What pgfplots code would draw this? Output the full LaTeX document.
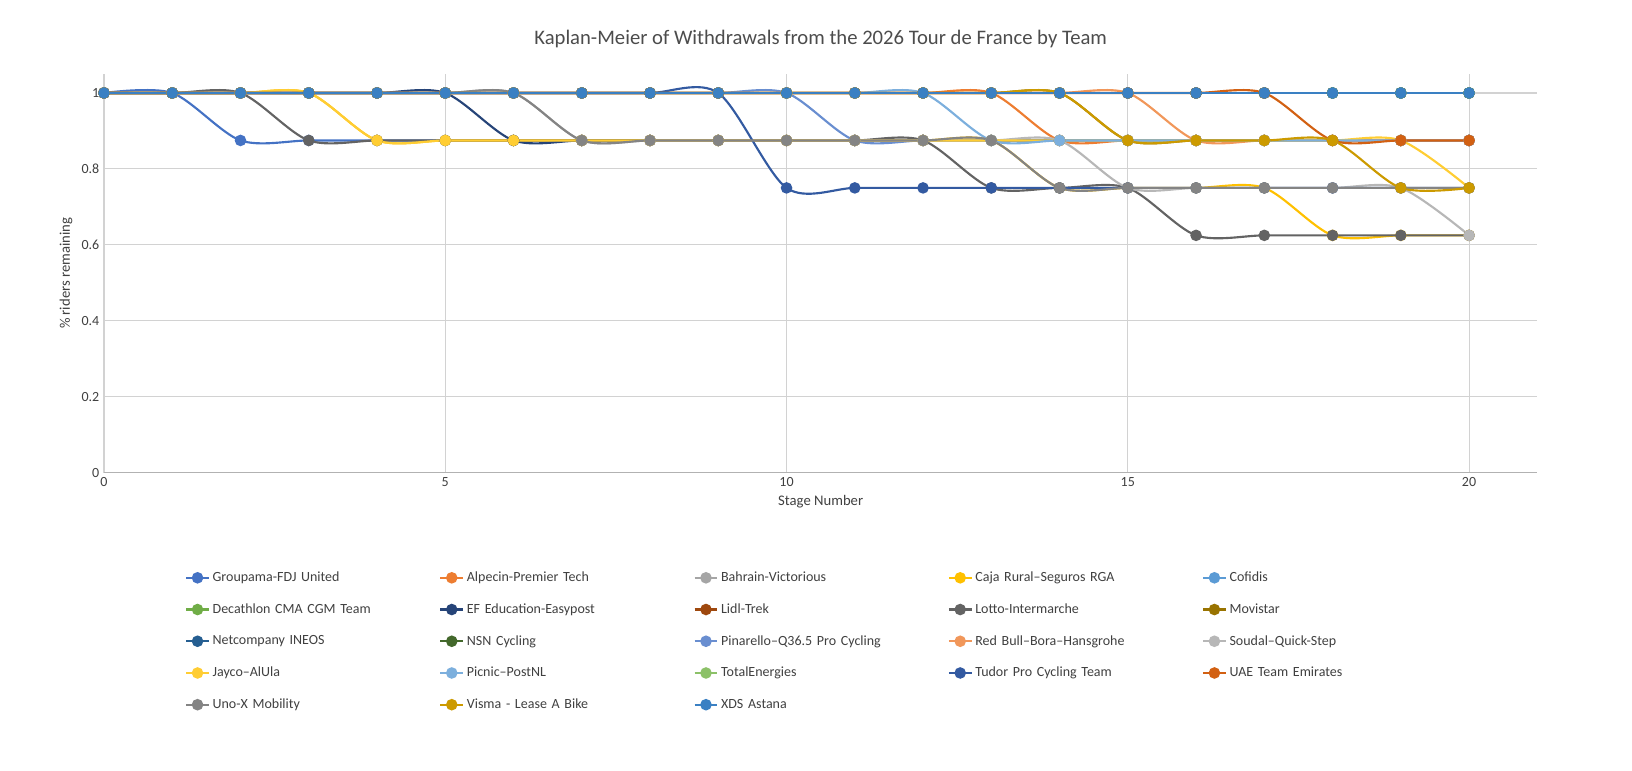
\documentclass[border=0pt]{standalone}
\usepackage{pgfplots}
\usepackage{pgfplotstable}
\pgfplotsset{compat=1.18}
\usepackage{fontspec}
\setmainfont{Carlito}
\definecolor{c1}{HTML}{4472C4}\definecolor{c2}{HTML}{ED7D31}\definecolor{c3}{HTML}{A5A5A5}
\definecolor{c4}{HTML}{FFC000}\definecolor{c5}{HTML}{5B9BD5}\definecolor{c6}{HTML}{70AD47}
\definecolor{c7}{HTML}{264478}\definecolor{c8}{HTML}{9E480E}\definecolor{c9}{HTML}{636363}
\definecolor{c10}{HTML}{997300}\definecolor{c11}{HTML}{255E91}\definecolor{c12}{HTML}{43682B}
\definecolor{c13}{HTML}{698ED0}\definecolor{c14}{HTML}{F1975A}\definecolor{c15}{HTML}{B7B7B7}
\definecolor{c16}{HTML}{FFCD33}\definecolor{c17}{HTML}{7CAFDD}\definecolor{c18}{HTML}{8CC168}
\definecolor{c19}{HTML}{335AA1}\definecolor{c20}{HTML}{D26012}\definecolor{c21}{HTML}{848484}
\definecolor{c22}{HTML}{CC9A00}\definecolor{c23}{HTML}{3A80C3}
\pgfplotstableread{
s G A B C Co D E L Lo M N NS P R S J Pi T Tu U Ux V X
0 1 1 1 1 1 1 1 1 1 1 1 1 1 1 1 1 1 1 1 1 1 1 1
1 1 1 1 1 1 1 1 1 1 1 1 1 1 1 1 1 1 1 1 1 1 1 1
2 .875 1 1 1 1 1 1 1 1 1 1 1 1 1 1 1 1 1 1 1 1 1 1
3 .875 1 1 1 1 1 1 1 .875 1 1 1 1 1 1 1 1 1 1 1 1 1 1
4 .875 1 1 .875 1 1 1 1 .875 1 1 1 1 1 1 .875 1 1 1 1 1 1 1
5 .875 1 1 .875 1 1 1 1 .875 1 1 1 1 1 1 .875 1 1 1 1 1 1 1
6 .875 1 1 .875 1 1 .875 1 .875 1 1 1 1 1 1 .875 1 1 1 1 1 1 1
7 .875 1 1 .875 1 1 .875 1 .875 1 1 1 1 1 .875 .875 1 1 1 1 .875 1 1
8 .875 1 1 .875 1 1 .875 1 .875 1 1 1 1 1 .875 .875 1 1 1 1 .875 1 1
9 .875 1 1 .875 1 1 .875 1 .875 1 1 1 1 1 .875 .875 1 1 1 1 .875 1 1
10 .875 1 1 .875 1 1 .875 1 .875 1 1 1 1 1 .875 .875 1 1 .75 1 .875 1 1
11 .875 1 1 .875 1 1 .875 1 .875 1 1 1 .875 1 .875 .875 1 1 .75 1 .875 1 1
12 .875 1 1 .875 1 1 .875 1 .875 1 1 1 .875 1 .875 .875 1 1 .75 1 .875 1 1
13 .875 1 1 .875 1 1 .875 1 .75 1 1 1 .875 1 .875 .875 .875 1 .75 1 .875 1 1
14 .875 .875 1 .75 1 1 .875 1 .75 1 1 1 .875 1 .875 .875 .875 1 .75 1 .75 1 1
15 .875 .875 1 .75 1 1 .875 1 .75 .875 1 1 .875 1 .75 .875 .875 1 .75 1 .75 .875 1
16 .875 .875 1 .75 1 1 .875 1 .625 .875 1 1 .875 .875 .75 .875 .875 1 .75 1 .75 .875 1
17 .875 .875 1 .75 1 1 .875 1 .625 .875 1 1 .875 .875 .75 .875 .875 1 .75 1 .75 .875 1
18 .875 .875 1 .625 1 1 .875 1 .625 .875 1 1 .875 .875 .75 .875 .875 1 .75 .875 .75 .875 1
19 .875 .875 1 .625 1 1 .875 1 .625 .875 1 1 .875 .875 .75 .875 .875 1 .75 .875 .75 .75 1
20 .875 .875 1 .625 1 1 .875 1 .625 .875 1 1 .875 .875 .625 .75 .875 1 .75 .875 .75 .75 1
}\data
\newcommand{\ser}[3]{\addplot[color=#1, mark=*, smooth, line width=1.6pt, mark size=3.5pt, mark options={solid}] table[x=s,y=#2]{\data}; \addlegendentry{#3}}
\begin{document}
\begin{tikzpicture}
\useasboundingbox (-78pt,-223.5pt) rectangle (1146pt,354.5pt);
\begin{axis}[scale only axis, width=1075pt, height=299pt,
  xmin=0, xmax=21, ymin=0, ymax=1.05,
  xtick={0,5,10,15,20}, ytick={0,0.2,0.4,0.6,0.8,1},
  yticklabels={0,0.2,0.4,0.6,0.8,1},
  grid=major, grid style={gray!35, line width=0.8pt},
  axis lines*=left, y axis line style={draw=none}, x axis line style={gray!60,line width=0.8pt},
  major tick length=0pt,
  tick label style={font=\fontsize{10.5}{12}\selectfont, color=black!75},
  /pgf/number format/assume math mode=true,
  xlabel={Stage Number}, ylabel={\% riders remaining},
  label style={font=\fontsize{11}{13}\selectfont, color=black!75},
  title={Kaplan-Meier of Withdrawals from the 2026 Tour de France by Team},
  title style={font=\fontsize{15.5}{18}\selectfont, color=black!70, yshift=10pt},
  legend columns=5,
  legend style={at={(0.5,-0.235)}, anchor=north, draw=none, font=\fontsize{10.5}{12}\selectfont, text=black!75,
    nodes={text width=168pt, align=left, anchor=west}, row sep=11pt},
  legend cell align=left,
  legend image post style={mark size=3.5pt},
]
\ser{c1}{G}{Groupama-FDJ United}
\ser{c2}{A}{Alpecin-Premier Tech}
\ser{c3}{B}{Bahrain-Victorious}
\ser{c4}{C}{Caja Rural--Seguros RGA}
\ser{c5}{Co}{Cofidis}
\ser{c6}{D}{Decathlon CMA CGM Team}
\ser{c7}{E}{EF Education-Easypost}
\ser{c8}{L}{Lidl-Trek}
\ser{c9}{Lo}{Lotto-Intermarche}
\ser{c10}{M}{Movistar}
\ser{c11}{N}{Netcompany INEOS}
\ser{c12}{NS}{NSN Cycling}
\ser{c13}{P}{Pinarello--Q36.5 Pro Cycling}
\ser{c14}{R}{Red Bull--Bora--Hansgrohe}
\ser{c15}{S}{Soudal--Quick-Step}
\ser{c16}{J}{Jayco--AlUla}
\ser{c17}{Pi}{Picnic--PostNL}
\ser{c18}{T}{TotalEnergies}
\ser{c19}{Tu}{Tudor Pro Cycling Team}
\ser{c20}{U}{UAE Team Emirates}
\ser{c21}{Ux}{Uno-X Mobility}
\ser{c22}{V}{Visma - Lease A Bike}
\ser{c23}{X}{XDS Astana}
\end{axis}
\end{tikzpicture}
\end{document}
